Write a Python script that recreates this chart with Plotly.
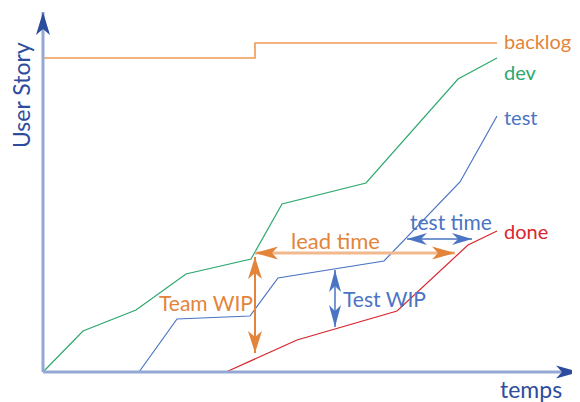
import plotly.graph_objects as go

# ---- data (time units on x, user stories on y) ----
backlog_x = [0, 212, 454]
backlog_y = [314, 329, 329]
dev_x = [0, 40, 93, 143, 208, 239, 323, 415, 454]
dev_y = [0, 41, 62, 98, 113, 168, 189, 293, 314]
test_x = [96, 134, 207, 235, 341, 417, 454]
test_y = [0, 53, 56, 94, 111, 190, 256]
done_x = [183, 254, 354, 425, 454]
done_y = [0, 32, 61, 127, 141]

series_names = ["backlog", "dev", "test", "done"]
series_label_y = [331, 300, 255, 141]

ORANGE = "#E3843A"
ORANGE_LIGHT = "#F2B88E"
GREEN = "#2EA86E"
BLUE = "#4A74C4"
RED = "#D8262E"
AXIS = "#94A8D4"
AXIS_DARK = "#2E4C9E"
FONT = "Lato"

# annotation arrows: (x0, y0, x1, y1)
team_wip = (212, 115, 212, 19)
lead_time = (212, 119, 412, 119)
test_time = (364, 133, 429, 133)
test_wip = (292, 102, 292, 45)

# page body has an 8px margin: figure is 572x394 placed at (8, 8)
X_RANGE = [-35, 537]
Y_RANGE = [-30, 364]

fig = go.Figure()

fig.add_trace(go.Scatter(x=backlog_x, y=backlog_y, mode="lines", line_shape="hv",
                         line=dict(color="#EE9A55", width=1.6), hoverinfo="skip"))
fig.add_trace(go.Scatter(x=dev_x, y=dev_y, mode="lines",
                         line=dict(color=GREEN, width=1.2), hoverinfo="skip"))
fig.add_trace(go.Scatter(x=test_x, y=test_y, mode="lines",
                         line=dict(color=BLUE, width=1.2), hoverinfo="skip"))
fig.add_trace(go.Scatter(x=done_x, y=done_y, mode="lines",
                         line=dict(color=RED, width=1.2), hoverinfo="skip"))


def head(tx, ty, dx, dy, L=22, W=7, N=6):
    nx, ny = -dy, dx
    bx, by = tx - L * dx, ty - L * dy
    mx, my = tx - (L - N) * dx, ty - (L - N) * dy
    return (f"M {tx},{ty} L {bx + W * nx},{by + W * ny} L {mx},{my} "
            f"L {bx - W * nx},{by - W * ny} Z")


shapes = []


def arrow(seg, line_color, head_color, width, both=True, L=22, W=7):
    x0, y0, x1, y1 = seg
    dx, dy = x1 - x0, y1 - y0
    d = (dx * dx + dy * dy) ** 0.5
    ux, uy = dx / d, dy / d
    shapes.append(dict(type="line", xref="x", yref="y", x0=x0, y0=y0, x1=x1, y1=y1,
                       line=dict(color=line_color, width=width)))
    shapes.append(dict(type="path", xref="x", yref="y", path=head(x1, y1, ux, uy, L, W),
                       fillcolor=head_color, line=dict(width=0)))
    if both:
        shapes.append(dict(type="path", xref="x", yref="y", path=head(x0, y0, -ux, -uy, L, W),
                           fillcolor=head_color, line=dict(width=0)))


# axes
arrow((0, 0, 0, 360), AXIS, AXIS_DARK, 3, both=False, L=23, W=7)
arrow((0, 0, 536, 0), AXIS, AXIS_DARK, 3, both=False, L=23, W=6.5)
# annotations
arrow(team_wip, ORANGE, ORANGE, 2, L=22, W=7)
arrow(lead_time, ORANGE_LIGHT, ORANGE, 3, L=23, W=6.5)
arrow(test_time, BLUE, BLUE, 1.5, L=20, W=6)
arrow(test_wip, BLUE, BLUE, 1.5, L=22, W=6)

annotations = []
colors = [ORANGE, GREEN, BLUE, RED]
for name, ly, c in zip(series_names, series_label_y, colors):
    annotations.append(dict(x=459, y=ly, text=name, showarrow=False, xanchor="left",
                            yanchor="middle", font=dict(family=FONT, size=20, color=c)))

texts = [
    ("Team WIP", 163, 70, ORANGE, 21),
    ("lead time", 292, 132, ORANGE, 22),
    ("test time", 408, 151, BLUE, 21),
    ("Test WIP", 341, 74, BLUE, 21),
]
for t, x, y, c, s in texts:
    annotations.append(dict(x=x, y=y, text=t, showarrow=False, xanchor="center",
                            yanchor="middle", font=dict(family=FONT, size=s, color=c)))

annotations.append(dict(x=-22, y=277, text="User Story", showarrow=False, textangle=-90,
                        xanchor="center", yanchor="middle",
                        font=dict(family=FONT, size=23, color=AXIS_DARK)))
annotations.append(dict(x=488, y=-17, text="temps", showarrow=False, xanchor="center",
                        yanchor="middle", font=dict(family=FONT, size=23, color=AXIS_DARK)))

fig.update_layout(
    width=572, height=394,
    margin=dict(l=0, r=0, t=0, b=0),
    paper_bgcolor="white", plot_bgcolor="white",
    showlegend=False,
    xaxis=dict(range=X_RANGE, visible=False, fixedrange=True),
    yaxis=dict(range=Y_RANGE, visible=False, fixedrange=True),
    shapes=shapes,
    annotations=annotations,
)

fig.write_html("out.html")
